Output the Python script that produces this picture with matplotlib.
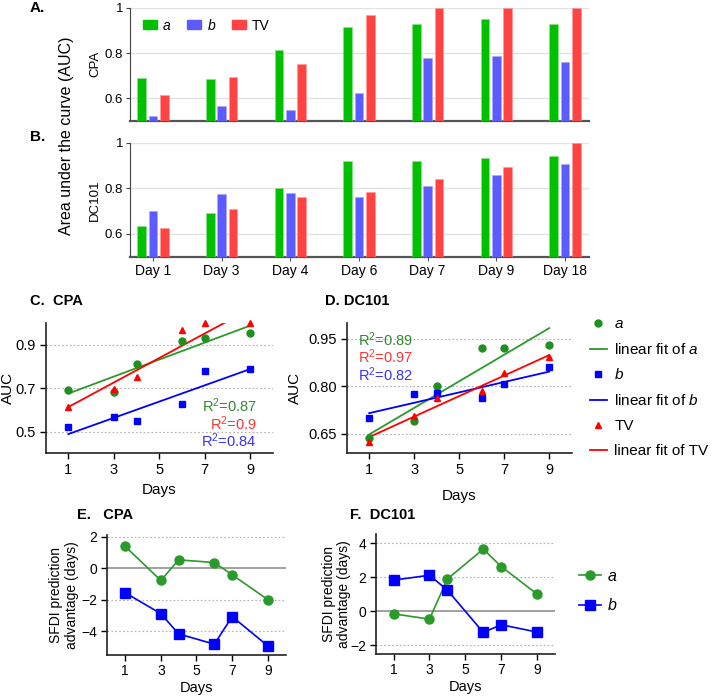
import numpy as np
import matplotlib
matplotlib.use("Agg")
import matplotlib.pyplot as plt
from matplotlib.lines import Line2D
from matplotlib.patches import Patch

plt.rcParams['font.family'] = ['Liberation Sans', 'DejaVu Sans']
plt.rcParams['mathtext.fontset'] = 'custom'
plt.rcParams['mathtext.rm'] = 'Liberation Sans'
plt.rcParams['mathtext.it'] = 'Liberation Sans:italic'
plt.rcParams['mathtext.default'] = 'regular'

# ---------------- data ----------------
bar_days = ["Day 1", "Day 3", "Day 4", "Day 6", "Day 7", "Day 9", "Day 18"]
cpa_a = [0.692, 0.684, 0.813, 0.917, 0.930, 0.953, 0.928]
cpa_b = [0.523, 0.565, 0.547, 0.625, 0.779, 0.789, 0.761]
cpa_tv = [0.615, 0.695, 0.752, 0.970, 1.000, 1.000, 1.000]
dc_a = [0.636, 0.690, 0.800, 0.920, 0.920, 0.931, 0.940]
dc_b = [0.701, 0.775, 0.779, 0.763, 0.809, 0.860, 0.905]
dc_tv = [0.626, 0.708, 0.763, 0.785, 0.842, 0.893, 1.000]

days = [1, 3, 4, 6, 7, 9]
r2_cpa = ["0.87", "0.9", "0.84"]
r2_dc = ["0.89", "0.97", "0.82"]

adv_cpa_a = [1.39, -0.78, 0.53, 0.36, -0.42, -2.00]
adv_cpa_b = [-1.56, -2.89, -4.18, -4.83, -3.08, -4.94]
adv_dc_a = [-0.16, -0.47, 1.89, 3.64, 2.62, 1.00]
adv_dc_b = [1.82, 2.11, 1.23, -1.25, -0.80, -1.23]

# ---------------- styles ----------------
BAR_G, BAR_B, BAR_R = '#00c000', '#5b5bff', '#ff4242'
G, B, R = '#1f8f1f', '#0000ff', '#ff0000'
LG = '#2a9a2a'

W, H = 713, 697
fig = plt.figure(figsize=(W / 100, H / 100), dpi=100)


def ax_px(l, t, r, b):
    return fig.add_axes([l / W, 1 - b / H, (r - l) / W, (b - t) / H])


def style_bar(ax, show_x):
    x = np.arange(len(bar_days))
    ax.set_xlim(-0.335, 6.35)
    ax.set_ylim(0.5, 1.0)
    ax.set_yticks([0.6, 0.8, 1.0])
    ax.set_yticklabels(["0.6", "0.8", "1"], fontsize=9.5)
    ax.yaxis.grid(True, color='#e2e2e2', lw=1.0)
    ax.set_axisbelow(True)
    for s in ['top', 'right']:
        ax.spines[s].set_visible(False)
    ax.spines['bottom'].set_color('#555555')
    ax.spines['bottom'].set_linewidth(1.6)
    ax.spines['left'].set_color('#444444')
    ax.spines['left'].set_linewidth(0.8)
    ax.tick_params(axis='y', length=3, width=0.8, color='#444444', pad=2)
    ax.set_xticks(x)
    if show_x:
        ax.set_xticklabels(bar_days, fontsize=10)
        ax.tick_params(axis='x', length=3, color='#555555', pad=2)
    else:
        ax.set_xticklabels([])
        ax.tick_params(axis='x', length=0)


def draw_bars(ax, va, vb, vt):
    x = np.arange(len(bar_days))
    w = 0.127
    off = 0.165
    ax.bar(x - off, va, w, color=BAR_G, edgecolor='#8fe08f', lw=0.4, zorder=3)
    ax.bar(x, vb, w, color=BAR_B, edgecolor='#a8a8ff', lw=0.4, zorder=3)
    ax.bar(x + off, vt, w, color=BAR_R, edgecolor='#ff9a9a', lw=0.4, zorder=3)


axA = ax_px(130, 8, 589, 121)
draw_bars(axA, cpa_a, cpa_b, cpa_tv)
style_bar(axA, False)
legA = axA.legend(handles=[Patch(color=BAR_G), Patch(color=BAR_B), Patch(color=BAR_R)],
                  labels=['a', 'b', 'TV'], ncol=3, loc='upper left', frameon=False,
                  fontsize=10, handlelength=1.0, handleheight=0.65, columnspacing=1.2,
                  handletextpad=0.45, bbox_to_anchor=(0.01, 0.98), borderaxespad=0.2)
legA.get_texts()[0].set_fontstyle('italic')
legA.get_texts()[1].set_fontstyle('italic')

axB = ax_px(130, 142.7, 589, 256.7)
draw_bars(axB, dc_a, dc_b, dc_tv)
style_bar(axB, True)

fig.text(95 / W, 1 - 64 / H, "CPA", rotation=90, ha='center', va='center', fontsize=9.5)
fig.text(95 / W, 1 - 200 / H, "DC101", rotation=90, ha='center', va='center', fontsize=9.5)
fig.text(66 / W, 1 - 136 / H, "Area under the curve (AUC)", rotation=90,
         ha='center', va='center', fontsize=11.5)
fig.text(30 / W, 1 - 8 / H, "A.", fontweight='bold', fontsize=11, va='center')
fig.text(30 / W, 1 - 137 / H, "B.", fontweight='bold', fontsize=11, va='center')


# ---------------- C / D ----------------
def style_line_ax(ax, ylim, yticks, ylabels, fs=10.5):
    ax.set_xlim(0, 10)
    ax.set_ylim(*ylim)
    ax.set_xticks([1, 3, 5, 7, 9])
    ax.set_yticks(yticks)
    ax.set_yticklabels(ylabels)
    ax.tick_params(labelsize=fs, length=4, width=1, pad=3)
    for s in ['top', 'right']:
        ax.spines[s].set_visible(False)
    for s in ['left', 'bottom']:
        ax.spines[s].set_linewidth(1.2)
        ax.spines[s].set_color('#222222')
    for yv in yticks:
        ax.axhline(yv, color='#b0b0b0', lw=0.8, ls=(0, (1.5, 2)), zorder=0)


def scatter_fit(ax, va, vb, vt):
    xs = np.array(days, dtype=float)
    xf = np.array([1.0, 9.0])
    for vals, col, mk, ms in [(va, G, 'o', 5), (vb, B, 's', 5), (vt, R, '^', 5)]:
        ax.plot(days, vals, ls='none', marker=mk, color=col, ms=ms, zorder=3, clip_on=False)
    for vals, col in [(va, LG), (vb, B), (vt, R)]:
        k, c = np.polyfit(xs, np.array(vals[:len(days)]), 1)
        ax.plot(xf, k * xf + c, color=col, lw=1.3, zorder=2)


axC = ax_px(45.7, 323, 272.7, 453.3)
scatter_fit(axC, cpa_a[:6], cpa_b[:6], cpa_tv[:6])
style_line_ax(axC, (0.4, 1.0), [0.5, 0.7, 0.9], ["0.5", "0.7", "0.9"])
axC.set_xlabel("Days", fontsize=11, labelpad=4)
axC.set_ylabel("AUC", fontsize=11)
axC.yaxis.set_label_coords(-0.135, 0.5)
for i, (txt, col) in enumerate(zip(r2_cpa, ['#2e8b2e', '#ff3333', '#3333ff'])):
    axC.text(0.93, 0.363 - i * 0.135, "R$^2$=" + txt, color=col, fontsize=10.5,
             ha='right', va='center', transform=axC.transAxes)

axD = ax_px(346.7, 323, 571.7, 453)
scatter_fit(axD, dc_a[:6], dc_b[:6], dc_tv[:6])
style_line_ax(axD, (0.59, 1.0), [0.65, 0.80, 0.95], ["0.65", "0.80", "0.95"])
axD.set_xlabel("Days", fontsize=11, labelpad=9)
axD.set_ylabel("AUC", fontsize=11)
axD.yaxis.set_label_coords(-0.2, 0.5)
for i, (txt, col) in enumerate(zip(r2_dc, ['#2e8b2e', '#ff3333', '#3333ff'])):
    axD.text(0.05, 0.875 - i * 0.138, "R$^2$=" + txt, color=col, fontsize=10.5,
             ha='left', va='center', transform=axD.transAxes)

hd = [Line2D([], [], ls='none', marker='o', color=G, ms=5),
      Line2D([], [], color=LG, lw=1.3),
      Line2D([], [], ls='none', marker='s', color=B, ms=5),
      Line2D([], [], color=B, lw=1.3),
      Line2D([], [], ls='none', marker='^', color=R, ms=5),
      Line2D([], [], color=R, lw=1.3)]
lb = ['a', r'linear fit of $\it{a}$', 'b', r'linear fit of $\it{b}$', 'TV', 'linear fit of TV']
legD = fig.legend(hd, lb, loc='upper left', bbox_to_anchor=(590 / W, 1 - 317 / H),
                  frameon=False, fontsize=11, handlelength=1.1, handletextpad=0.5,
                  labelspacing=0.72, borderaxespad=0, borderpad=0)
legD.get_texts()[0].set_fontstyle('italic')
legD.get_texts()[2].set_fontstyle('italic')

fig.text(30 / W, 1 - 301 / H, "C.  CPA", fontweight='bold', fontsize=10.5, va='center')
fig.text(325 / W, 1 - 301 / H, "D. DC101", fontweight='bold', fontsize=10.5, va='center')


# ---------------- E / F ----------------
def adv_panel(ax, va, vb, ylim, yticks):
    ax.plot(days, va, color=LG, marker='o', ms=6.5, lw=1.2, zorder=3)
    ax.plot(days, vb, color=B, marker='s', ms=6.5, lw=1.2, zorder=3)
    ax.set_xlim(0, 10)
    ax.set_ylim(*ylim)
    ax.set_xticks([1, 3, 5, 7, 9])
    ax.set_yticks(yticks)
    ax.tick_params(labelsize=10, length=4, width=1, pad=3)
    for s in ['top', 'right']:
        ax.spines[s].set_visible(False)
    for s in ['left', 'bottom']:
        ax.spines[s].set_linewidth(1.2)
        ax.spines[s].set_color('#222222')
    for yv in yticks:
        if yv == 0:
            ax.axhline(0, color='#9a9a9a', lw=1.3, zorder=1)
        else:
            ax.axhline(yv, color='#b0b0b0', lw=0.8, ls=(0, (1.5, 2)), zorder=0)
    ax.set_xlabel("Days", fontsize=10.5, labelpad=2)


axE = ax_px(107.3, 534.7, 285.7, 654.7)
adv_panel(axE, adv_cpa_a, adv_cpa_b, (-5.5, 2.13), [2, 0, -2, -4])
axE.set_ylabel("SFDI prediction\nadvantage (days)", fontsize=10, linespacing=1.15)
axE.yaxis.set_label_coords(-0.16, 0.5)

axF = ax_px(375.7, 534, 555, 653.7)
adv_panel(axF, adv_dc_a, adv_dc_b, (-2.5, 4.53), [4, 2, 0, -2])
axF.set_ylabel("SFDI prediction\nadvantage (days)", fontsize=10, linespacing=1.15)
axF.yaxis.set_label_coords(-0.135, 0.5)

hf = [Line2D([], [], color=LG, marker='o', ms=6.5, lw=1.2),
      Line2D([], [], color=B, marker='s', ms=6.5, lw=1.2)]
legF = fig.legend(hf, ['a', 'b'], loc='upper left', bbox_to_anchor=(579 / W, 1 - 569 / H),
                  frameon=False, fontsize=11.5, handlelength=1.4, handletextpad=0.4,
                  labelspacing=0.9, borderaxespad=0, borderpad=0)
for t in legF.get_texts():
    t.set_fontstyle('italic')

fig.text(77 / W, 1 - 515 / H, "E.   CPA", fontweight='bold', fontsize=10.5, va='center')
fig.text(350 / W, 1 - 515 / H, "F.  DC101", fontweight='bold', fontsize=10.5, va='center')

fig.savefig("out.png", dpi=100)
